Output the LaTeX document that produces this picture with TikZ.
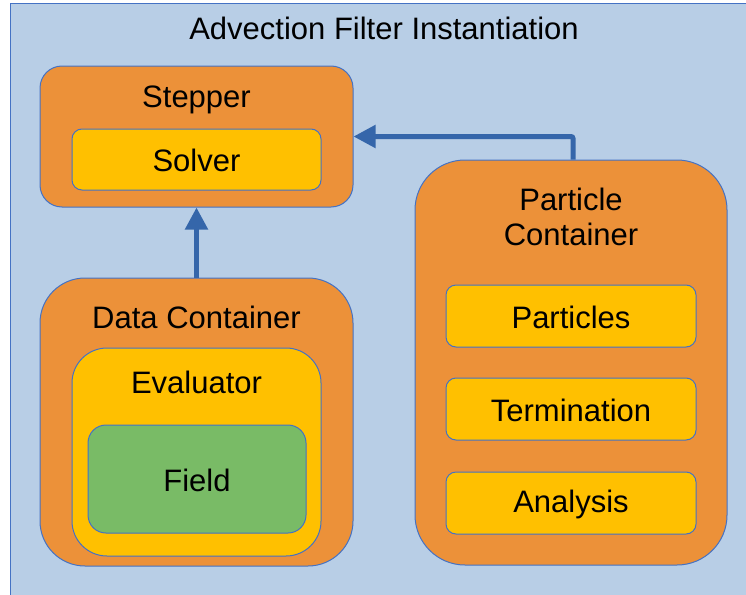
\documentclass[tikz,border=0pt]{standalone}
\usepackage{fontspec}
\setmainfont{Liberation Sans}
\usetikzlibrary{arrows.meta}
\definecolor{bgblue}{HTML}{B8CEE6}
\definecolor{edgeblue}{HTML}{4472C4}
\definecolor{arrowblue}{HTML}{3566AA}
\definecolor{boxorange}{HTML}{EC9139}
\definecolor{boxyellow}{HTML}{FFC000}
\definecolor{boxgreen}{HTML}{79BB66}
\tikzset{
  panel/.style={draw=edgeblue, line width=1pt, inner sep=0pt},
  outerbox/.style={panel, fill=boxorange},
  innerbox/.style={panel, fill=boxyellow},
  corebox/.style={panel, fill=boxgreen},
  caption/.style={font=\fontsize{31}{36}\selectfont, inner sep=0pt, align=center},
  flow/.style={draw=arrowblue, line width=5pt, rounded corners=2pt,
    -{Triangle[width=22pt,length=22pt]}},
}
\begin{document}
\begin{tikzpicture}[x=1pt, y=-1pt]
  \useasboundingbox (0,0) rectangle (746,594);
  % background panel
  \fill[bgblue] (10,4) rectangle (760,610);
  \draw[edgeblue, line width=1pt] (760,4) -- (10,4) -- (10,610);
  \node[caption] (title) at (384,28) {Advection Filter Instantiation};

  % stepper with solver
  \node[outerbox, rounded corners=22pt, minimum width=313pt, minimum height=141pt] (stepper) at (196.5,136.5) {};
  \node[caption] (steppertxt) at (196.5,100) {Stepper};
  \node[innerbox, rounded corners=10pt, minimum width=249pt, minimum height=61pt] (solver) at (196.5,159.5) {};
  \node[caption] (solvertxt) at (196.5,160) {Solver};

  % data container with evaluator and field
  \node[outerbox, rounded corners=45pt, minimum width=313pt, minimum height=288pt] (data) at (196.5,422) {};
  \node[caption] (datatxt) at (196.5,317) {Data Container};
  \node[innerbox, rounded corners=35pt, minimum width=249pt, minimum height=208pt] (eval) at (196.5,452) {};
  \node[caption] (evaltxt) at (196.5,382) {Evaluator};
  \node[corebox, rounded corners=18pt, minimum width=218pt, minimum height=108pt] (field) at (197,479) {};
  \node[caption] (fieldtxt) at (197,480) {Field};

  % particle container
  \node[outerbox, rounded corners=50pt, minimum width=312pt, minimum height=405pt] (particle) at (571,362.5) {};
  \node[caption, text depth=0pt] (particletxt) at (571,217) {Particle\\[-1pt]Container};
  \node[innerbox, rounded corners=10pt, minimum width=250pt, minimum height=62pt] (parts) at (571,316) {};
  \node[caption] (partstxt) at (571,317) {Particles};
  \node[innerbox, rounded corners=10pt, minimum width=250pt, minimum height=62pt] (term) at (571,409) {};
  \node[caption] (termtxt) at (571,410) {Termination};
  \node[innerbox, rounded corners=10pt, minimum width=250pt, minimum height=62pt] (anal) at (571,503) {};
  \node[caption] (analtxt) at (571,504) {Analysis};

  % connectors
  \draw[flow] (data.north) -- (stepper.south);
  \draw[flow] ([xshift=2pt]particle.north) |- (stepper.east);
\end{tikzpicture}
\end{document}
